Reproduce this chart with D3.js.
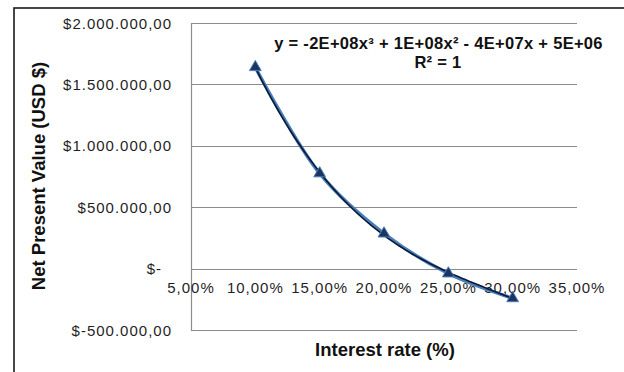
<!DOCTYPE html>
<html><head><meta charset="utf-8">
<script src="https://cdn.jsdelivr.net/npm/d3@7"></script>
<style>html,body{margin:0;padding:0;background:#fff;}svg{display:block;font-family:"Liberation Sans",Arial,sans-serif;}</style>
</head><body><svg id="c" width="624" height="372"></svg>
<script>
const rates = [0.10, 0.15, 0.20, 0.25, 0.30];
const npv = [1640000, 775000, 285000, -40000, -242000];
const xTicks = [0.05, 0.10, 0.15, 0.20, 0.25, 0.30, 0.35];
const xTickLabels = ["5,00%", "10,00%", "15,00%", "20,00%", "25,00%", "30,00%", "35,00%"];
const yTicks = [2000000, 1500000, 1000000, 500000, 0, -500000];
const yTickLabels = ["$2.000.000,00", "$1.500.000,00", "$1.000.000,00", "$500.000,00", "$-", "$-500.000,00"];
const equation = "y = -2E+08x³ + 1E+08x² - 4E+07x + 5E+06";
const rSquared = "R² = 1";
const xTitle = "Interest rate (%)";
const yTitle = "Net Present Value (USD $)";

const svg = d3.select("#c");
const L = 191, R = 577, T = 23, B = 330;
const x = d3.scaleLinear().domain([0.05, 0.35]).range([L, R]);
const y = d3.scaleLinear().domain([-500000, 2000000]).range([B, T]);

// outer frame
svg.append("rect").attr("x", 14).attr("y", 8).attr("width", 800).attr("height", 600)
  .attr("fill", "none").attr("stroke", "#1a1a1a").attr("stroke-width", 1.6);

// gridlines
svg.append("g").selectAll("line").data(yTicks).join("line")
  .attr("x1", L).attr("x2", R).attr("y1", d => Math.round(y(d)) + 0.5).attr("y2", d => Math.round(y(d)) + 0.5)
  .attr("stroke", "#8c8c8c").attr("stroke-width", 1.2);
// y axis line
svg.append("line").attr("x1", L + 0.5).attr("x2", L + 0.5).attr("y1", T).attr("y2", B + 1)
  .attr("stroke", "#8c8c8c").attr("stroke-width", 1.2);

// y tick labels
svg.append("g").selectAll("text").data(yTicks).join("text")
  .attr("x", (d, i) => yTickLabels[i] === "$-" ? 162 : 172)
  .attr("y", d => y(d) + 5.5)
  .attr("text-anchor", "end").attr("font-size", 15).attr("letter-spacing", 1)
  .attr("fill", "#1f1f1f")
  .text((d, i) => yTickLabels[i]);

// x tick labels
svg.append("g").selectAll("text").data(xTicks).join("text")
  .attr("x", d => x(d)).attr("y", 293)
  .attr("text-anchor", "middle").attr("font-size", 15).attr("letter-spacing", 1)
  .attr("fill", "#1f1f1f")
  .text((d, i) => xTickLabels[i]);

const pts = rates.map((r, i) => [r, npv[i]]);
// series smoothed line
const line = d3.line().x(d => x(d[0])).y(d => y(d[1])).curve(d3.curveCatmullRom.alpha(0.5));
svg.append("path").datum(pts).attr("d", line).attr("fill", "none")
  .attr("stroke", "#4a7ebb").attr("stroke-width", 3.5);

// polynomial trendline: least-squares cubic fit of the data
function fitCubic(xs, ys) {
  const n = 4, A = [];
  for (let r = 0; r < n; r++) {
    A.push([]);
    for (let c = 0; c < n; c++) A[r].push(d3.sum(xs, v => Math.pow(v, r + c)));
    A[r].push(d3.sum(xs, (v, i) => ys[i] * Math.pow(v, r)));
  }
  for (let p = 0; p < n; p++) {
    let m = p; for (let r = p + 1; r < n; r++) if (Math.abs(A[r][p]) > Math.abs(A[m][p])) m = r;
    [A[p], A[m]] = [A[m], A[p]];
    for (let r = 0; r < n; r++) if (r !== p) { const f = A[r][p] / A[p][p]; for (let c = p; c <= n; c++) A[r][c] -= f * A[p][c]; }
  }
  return A.map((row, i) => row[n] / row[i]);
}
const co = fitCubic(rates, npv);
const fx = v => co[0] + co[1] * v + co[2] * v * v + co[3] * v * v * v;
const tr = d3.range(rates[0], rates[rates.length - 1] + 1e-9, 0.002).map(v => [v, fx(v)]);
svg.append("path").datum(tr).attr("d", d3.line().x(d => x(d[0])).y(d => y(d[1])))
  .attr("fill", "none").attr("stroke", "#0b1a36").attr("stroke-width", 1.6);

// markers
svg.append("g").selectAll("path").data(pts).join("path")
  .attr("transform", d => `translate(${x(d[0])},${y(d[1])})`)
  .attr("d", d3.symbol(d3.symbolTriangle, 60))
  .attr("fill", "#1c3560").attr("stroke", "#4a7ebb").attr("stroke-width", 1);

// equation
svg.append("text").attr("x", 438.5).attr("y", 49).attr("text-anchor", "middle")
  .attr("font-size", 16.5).attr("letter-spacing", 0.3).attr("font-weight", "bold").attr("fill", "#111").text(equation);
svg.append("text").attr("x", 438).attr("y", 68).attr("text-anchor", "middle")
  .attr("font-size", 16.5).attr("letter-spacing", 0.3).attr("font-weight", "bold").attr("fill", "#111").text(rSquared);

// axis titles
svg.append("text").attr("x", 385).attr("y", 356).attr("text-anchor", "middle")
  .attr("font-size", 18.5).attr("font-weight", "bold").attr("fill", "#111").text(xTitle);
svg.append("text").attr("transform", "translate(45,176) rotate(-90)").attr("text-anchor", "middle")
  .attr("font-size", 18.5).attr("font-weight", "bold").attr("fill", "#111").text(yTitle);
</script></body></html>
